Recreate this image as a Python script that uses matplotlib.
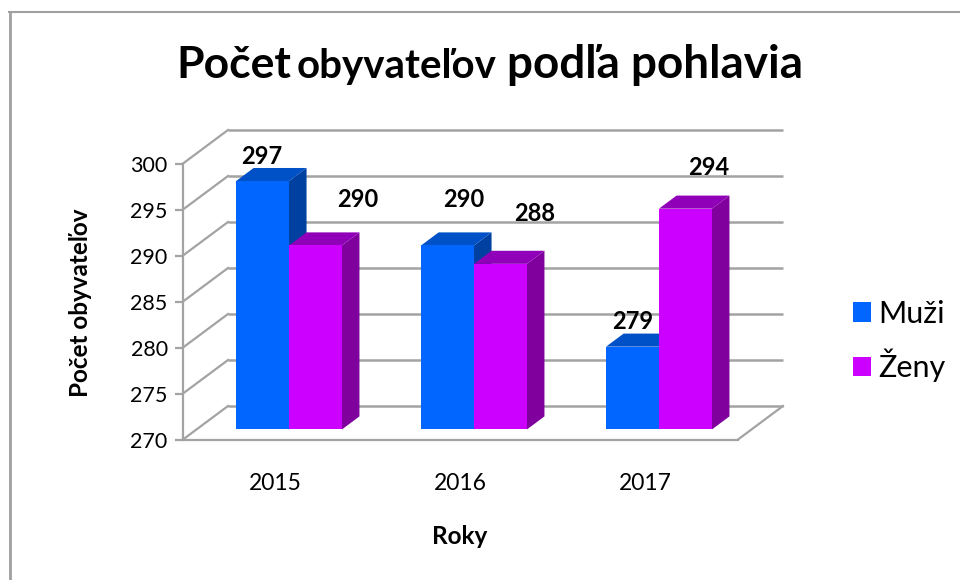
import matplotlib
matplotlib.use('Agg')
import matplotlib.pyplot as plt
from matplotlib.lines import Line2D
from matplotlib.patches import Patch

# Data
years = ['2015', '2016', '2017']
muzi = [297, 290, 279]
zeny = [290, 288, 294]
y_ticks = [270, 275, 280, 285, 290, 295, 300]

# Manually moved data labels in the original, offsets in pixels
muzi_offsets = [(-1, 25), (16, 46), (0, 25)]
zeny_offsets = [(42, 46), (34, 50), (23, 41)]

# Fake 3D: depth of the chart floor in data units
DEPTH_X = 45 / 185
DEPTH_Y = 33.5 / 9.2
BAR_W = 0.286
BAR_D0 = 0.30
BAR_D1 = 0.69

GRID = '#a3a3a3'
BLUE = ('#0066ff', '#0050c8', '#0040a0')
PURPLE = ('#cc00ff', '#8f00b8', '#7f009c')

plt.rcParams['font.family'] = ['Lato', 'DejaVu Sans']

W, H = 960, 580
fig = plt.figure(figsize=(W / 100, H / 100), dpi=100, facecolor='white')
ax = fig.add_axes([183 / W, 1 - 439.5 / H, 555 / W, 276 / H])
ax.set_xlim(0, 3)
ax.set_ylim(270, 300)
ax.patch.set_visible(False)
for side in ['top', 'right']:
    ax.spines[side].set_visible(False)
for side in ['left', 'bottom']:
    ax.spines[side].set_color(GRID)
    ax.spines[side].set_linewidth(1.6)

ax.set_yticks(y_ticks)
ax.tick_params(axis='y', length=6, width=1.6, color=GRID, pad=5, labelsize=15.5)
ax.set_xticks([0.5, 1.5, 2.5])
ax.set_xticklabels(years)
ax.tick_params(axis='x', length=0, pad=24, labelsize=16.5)

# Walls
for v in y_ticks:
    ax.plot([DEPTH_X, 3 + DEPTH_X], [v + DEPTH_Y, v + DEPTH_Y], color=GRID, lw=1.8,
            clip_on=False, zorder=1, solid_capstyle='butt')
    ax.plot([0, DEPTH_X], [v, v + DEPTH_Y], color=GRID, lw=1.6, clip_on=False, zorder=1)
ax.plot([3, 3 + DEPTH_X], [270, 270 + DEPTH_Y], color=GRID, lw=1.6, clip_on=False, zorder=1)


def draw_bar(x, value, colors, z):
    front, top, side = colors
    x0 = x + BAR_D0 * DEPTH_X
    x1 = x0 + BAR_W
    y0 = 270 + BAR_D0 * DEPTH_Y
    y1 = value + BAR_D0 * DEPTH_Y
    dx = (BAR_D1 - BAR_D0) * DEPTH_X
    dy = (BAR_D1 - BAR_D0) * DEPTH_Y
    ax.fill([x1, x1 + dx, x1 + dx, x1], [y0, y0 + dy, y1 + dy, y1], color=side,
            lw=0, clip_on=False, zorder=z)
    ax.fill([x0, x0 + dx, x1 + dx, x1], [y1, y1 + dy, y1 + dy, y1], color=top,
            lw=0, clip_on=False, zorder=z)
    ax.fill([x0, x1, x1, x0], [y0, y0, y1, y1], color=front,
            lw=0, clip_on=False, zorder=z + 0.1)
    return (x0 + x1) / 2, y1


for i in range(len(years)):
    left = i + 0.5 - BAR_W
    xm, ym = draw_bar(left, muzi[i], BLUE, 3)
    ax.annotate(str(muzi[i]), (xm, ym), xytext=muzi_offsets[i], textcoords='offset pixels',
                ha='center', va='center', fontsize=17, fontweight='bold', zorder=6,
                annotation_clip=False)
    xz, yz = draw_bar(i + 0.5, zeny[i], PURPLE, 4)
    ax.annotate(str(zeny[i]), (xz, yz), xytext=zeny_offsets[i], textcoords='offset pixels',
                ha='center', va='center', fontsize=17, fontweight='bold', zorder=6,
                annotation_clip=False)

# Axis titles
fig.text(81 / W, 1 - 303 / H, 'Počet obyvateľov', rotation=90, ha='center', va='center',
         fontsize=17.5, fontweight='bold')
fig.text(460 / W, 1 - 537 / H, 'Roky', ha='center', va='center', fontsize=17.5, fontweight='bold')

# Title has a smaller middle word
fig.text(176 / W, 1 - 78 / H, 'Počet', fontsize=32, fontweight='bold', va='baseline')
fig.text(297 / W, 1 - 78 / H, 'obyvateľov', fontsize=29, fontweight='bold', va='baseline')
fig.text(507 / W, 1 - 78 / H, 'podľa pohlavia', fontsize=33, fontweight='bold', va='baseline')

# Legend
handles = [Patch(color=BLUE[0], lw=0), Patch(color=PURPLE[0], lw=0)]
fig.legend(handles, ['Muži', 'Ženy'], loc='center left',
           bbox_to_anchor=(853 / W, 1 - 341 / H), frameon=False, fontsize=22,
           borderpad=0, borderaxespad=0,
           handlelength=0.59, handleheight=0.59, handletextpad=0.24, labelspacing=0.68)

# Chart area border, only top and left are in the picture
fig.add_artist(Line2D([9.5 / W, 9.5 / W], [0, 1 - 12 / H], color='#a0a0a0', lw=2))
fig.add_artist(Line2D([9 / W, 1], [1 - 12 / H, 1 - 12 / H], color='#a0a0a0', lw=1.5))

fig.savefig('out.png', dpi=100)
